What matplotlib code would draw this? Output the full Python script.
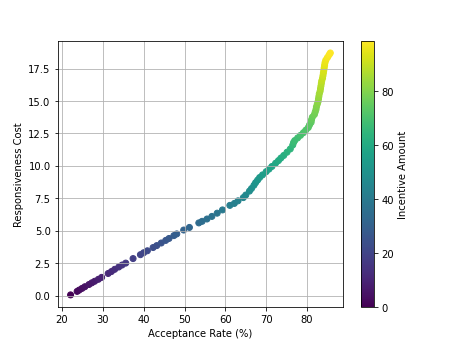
import matplotlib
matplotlib.use("Agg")
import matplotlib.pyplot as plt

# values
acceptance_rate = [22.1, 23.7, 24.2, 24.9, 25.6, 26.6, 27.3, 28.0, 28.9,
                   29.7, 31.3, 32.1, 32.9, 33.9, 34.7, 35.6, 37.4,
                   39.2, 40.0, 40.9, 42.3, 43.2, 44.3, 45.4, 46.2, 47.4, 48.1,
                   49.8, 51.2, 53.5, 54.3, 55.5, 56.7, 58.0, 59.3, 61.1, 62.2, 63.1,
                   64.4, 65.0, 65.9, 66.4, 67.0, 67.4, 67.9, 68.4, 69.1, 70.0,
                   70.7, 71.4, 72.3, 73.0, 73.6, 74.3, 75.1, 75.9, 76.5, 76.7,
                   77.0, 77.7, 78.4, 79.1, 79.7, 80.3, 80.6, 81.0, 81.1, 81.3,
                   81.8, 82.0, 82.2, 82.3, 82.5, 82.7, 82.8, 82.9, 83.0, 83.2,
                   83.3, 83.4, 83.5, 83.6, 83.8, 83.9, 84.0, 84.1, 84.2, 84.3,
                   84.4, 84.6, 85.0, 85.4, 85.7]
responsiveness_cost = [0.05, 0.32, 0.42, 0.55, 0.68, 0.85, 0.98, 1.10, 1.25,
                       1.40, 1.70, 1.85, 2.02, 2.20, 2.35, 2.50, 2.85,
                       3.15, 3.30, 3.45, 3.70, 3.85, 4.05, 4.25, 4.40, 4.62, 4.75,
                       5.05, 5.25, 5.60, 5.72, 5.90, 6.10, 6.35, 6.60, 6.95, 7.10, 7.30,
                       7.55, 7.75, 8.05, 8.25, 8.50, 8.70, 8.90, 9.10, 9.30, 9.55,
                       9.75, 9.95, 10.20, 10.40, 10.60, 10.80, 11.05, 11.30, 11.60, 11.80,
                       11.95, 12.15, 12.35, 12.55, 12.75, 12.95, 13.15, 13.35, 13.55, 13.75,
                       13.95, 14.15, 14.35, 14.55, 14.75, 14.95, 15.15, 15.35, 15.55, 15.75,
                       15.95, 16.15, 16.35, 16.55, 16.75, 16.95, 17.15, 17.35, 17.55, 17.75,
                       17.95, 18.15, 18.35, 18.55, 18.70]
incentive_amount = [0.0, 2.1, 2.7, 3.6, 4.4, 5.5, 6.4, 7.1, 8.1,
                    9.1, 11.0, 11.9, 13.0, 14.1, 15.0, 16.0, 18.1,
                    19.9, 20.8, 21.7, 23.2, 24.1, 25.3, 26.5, 27.3, 28.6, 29.4,
                    31.1, 32.2, 34.2, 34.9, 36.0, 37.1, 38.4, 39.8, 41.7, 42.6, 43.6,
                    45.0, 46.1, 47.7, 48.7, 50.0, 51.0, 52.1, 53.1, 54.2, 55.5,
                    56.5, 57.5, 58.8, 59.8, 60.8, 61.8, 63.1, 64.3, 65.8, 66.8,
                    67.5, 68.5, 69.5, 70.5, 71.4, 72.4, 73.3, 74.2, 75.2, 76.2,
                    77.2, 78.1, 79.0, 80.0, 80.9, 81.8, 82.7, 83.6, 84.5, 85.5,
                    86.4, 87.3, 88.2, 89.1, 90.1, 91.0, 91.9, 92.7, 93.6, 94.5,
                    95.4, 96.3, 97.2, 98.0, 98.7]

plt.figure(figsize=(6.4, 4.8), dpi=72)
sc = plt.scatter(acceptance_rate, responsiveness_cost, c=incentive_amount, cmap='viridis')
plt.colorbar(sc, label='Incentive Amount')
plt.xlabel('Acceptance Rate (%)')
plt.ylabel('Responsiveness Cost')
plt.grid(True)
plt.savefig('out.png', dpi=72)
